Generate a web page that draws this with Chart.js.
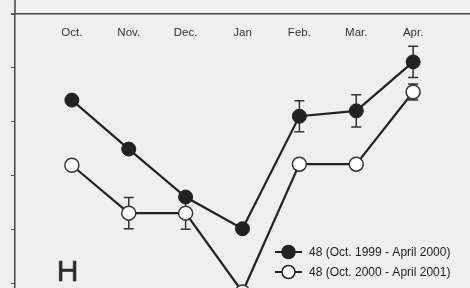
<!DOCTYPE html>
<html>
<head>
<meta charset="utf-8">
<script src="https://cdn.jsdelivr.net/npm/chart.js@4.4.0/dist/chart.umd.min.js"></script>
<style>
  html, body { margin: 0; padding: 0; background: #efefef; overflow: hidden; width: 470px; height: 288px; }
  canvas { display: block; }
</style>
</head>
<body>
<canvas id="c" width="470" height="310"></canvas>
<script>
const months = ['Oct.', 'Nov.', 'Dec.', 'Jan', 'Feb.', 'Mar.', 'Apr.'];
const series1999 = [3.40, 2.49, 1.60, 1.01, 3.10, 3.20, 4.11];
const err1999 = [null, null, null, null, 0.29, 0.30, 0.29];
const series2000 = [2.19, 1.30, 1.30, -0.165, 2.21, 2.21, 3.55];
const err2000 = [null, 0.29, 0.30, null, null, null, 0.15];
const legendLabels = ['48 (Oct. 1999 - April 2000)', '48 (Oct. 2000 - April 2001)'];
const panelLabel = 'H';

const FONT = '"Liberation Sans", Arial, sans-serif';
const INK = '#222222';

const toXY = arr => arr.map((v, i) => ({ x: i, y: v }));

const bgPlugin = {
  id: 'bg',
  beforeDraw(chart) {
    const ctx = chart.ctx;
    ctx.save();
    ctx.fillStyle = '#efefef';
    ctx.fillRect(0, 0, chart.width, chart.height);
    ctx.restore();
  }
};

const errPlugin = {
  id: 'errbars',
  beforeDatasetsDraw(chart) {
    const ctx = chart.ctx;
    const xs = chart.scales.x, ys = chart.scales.y;
    const sets = [[series1999, err1999], [series2000, err2000]];
    ctx.save();
    ctx.strokeStyle = '#333';
    ctx.lineWidth = 1.5;
    sets.forEach(([vals, errs]) => {
      vals.forEach((v, i) => {
        const e = errs[i];
        if (e == null) return;
        const x = xs.getPixelForValue(i);
        const yt = ys.getPixelForValue(v + e);
        const yb = ys.getPixelForValue(v - e);
        ctx.beginPath();
        ctx.moveTo(x, yt); ctx.lineTo(x, yb);
        ctx.moveTo(x - 5, yt); ctx.lineTo(x + 5, yt);
        ctx.moveTo(x - 5, yb); ctx.lineTo(x + 5, yb);
        ctx.stroke();
      });
    });
    ctx.restore();
  },
  afterDraw(chart) {
    const ctx = chart.ctx;
    const ca = chart.chartArea;
    ctx.save();
    ctx.strokeStyle = '#444';
    ctx.lineWidth = 1.5;
    ctx.beginPath();
    ctx.moveTo(ca.left, 0); ctx.lineTo(ca.left, ca.top);
    ctx.moveTo(11, ca.top); ctx.lineTo(ca.left, ca.top);
    ctx.stroke();
    ctx.fillStyle = '#2a2a2a';
    ctx.strokeStyle = '#2a2a2a';
    ctx.lineWidth = 0.6;
    ctx.font = '30px ' + FONT;
    ctx.textAlign = 'center';
    ctx.textBaseline = 'alphabetic';
    ctx.fillText(panelLabel, 67.5, 281);
    ctx.strokeText(panelLabel, 67.5, 281);
    const ly = [252, 272];
    legendLabels.forEach((t, k) => {
      const y = ly[k];
      ctx.strokeStyle = INK;
      ctx.lineWidth = 2;
      ctx.beginPath();
      ctx.moveTo(275, y); ctx.lineTo(302, y);
      ctx.stroke();
      ctx.beginPath();
      ctx.arc(288.5, y, 6.5, 0, Math.PI * 2);
      ctx.fillStyle = k === 0 ? INK : '#ffffff';
      ctx.fill();
      ctx.lineWidth = 1.5;
      ctx.strokeStyle = INK;
      ctx.stroke();
      ctx.fillStyle = '#1e1e1e';
      ctx.font = '12px ' + FONT;
      ctx.textAlign = 'left';
      ctx.textBaseline = 'middle';
      ctx.fillText(t, 309, y + 0.5);
    });
    ctx.restore();
  }
};

new Chart(document.getElementById('c'), {
  type: 'line',
  data: {
    datasets: [
      {
        label: legendLabels[0],
        data: toXY(series1999),
        borderColor: INK,
        borderWidth: 2.2,
        pointRadius: 7,
        pointBackgroundColor: INK,
        pointBorderColor: INK,
        pointBorderWidth: 1,
        tension: 0,
        clip: false
      },
      {
        label: legendLabels[1],
        data: toXY(series2000),
        borderColor: INK,
        borderWidth: 2.2,
        pointRadius: 7,
        pointBackgroundColor: '#ffffff',
        pointBorderColor: '#333',
        pointBorderWidth: 1.5,
        tension: 0,
        clip: false
      }
    ]
  },
  options: {
    responsive: false,
    animation: false,
    events: [],
    layout: { padding: 0, autoPadding: false },
    plugins: { legend: { display: false }, tooltip: { enabled: false } },
    scales: {
      x: {
        type: 'linear',
        position: 'top',
        min: -1,
        max: 7,
        afterFit(s) { s.height = 14; s.paddingLeft = 0; s.paddingRight = 0; },
        grid: { display: false, drawTicks: false },
        border: { display: true, color: '#444', width: 1.5 },
        ticks: {
          stepSize: 1,
          autoSkip: false,
          maxRotation: 0,
          mirror: true,
          padding: 12,
          color: '#333',
          font: { family: FONT, size: 11.5 },
          callback: v => (months[v] !== undefined ? months[v] : '')
        }
      },
      y: {
        type: 'linear',
        min: -0.5,
        max: 5,
        afterFit(s) { s.width = 15; s.paddingTop = 0; s.paddingBottom = 0; },
        grid: { drawOnChartArea: false, drawTicks: true, tickLength: 4, color: '#555', lineWidth: 1 },
        border: { display: true, color: '#444', width: 1.5 },
        ticks: { stepSize: 1, display: false }
      }
    }
  },
  plugins: [bgPlugin, errPlugin]
});
</script>
</body>
</html>
